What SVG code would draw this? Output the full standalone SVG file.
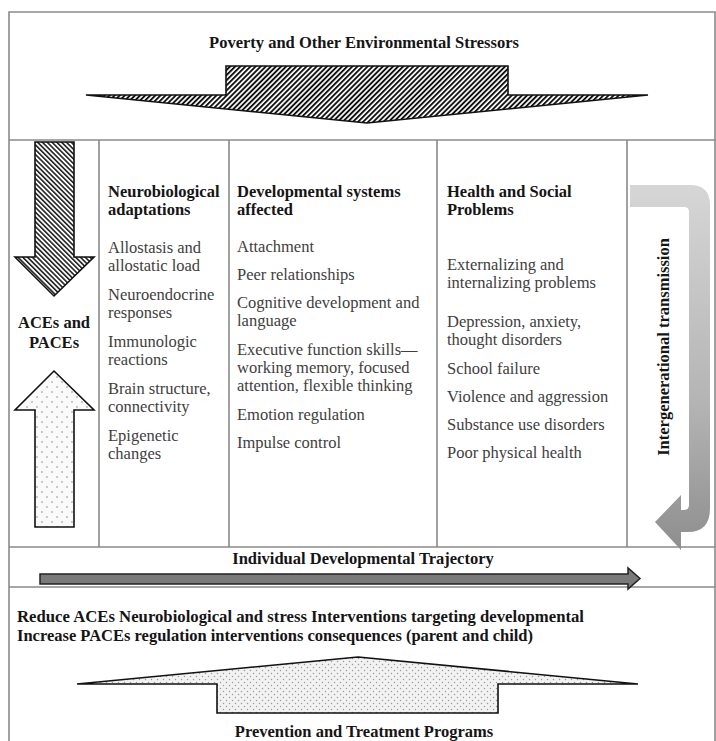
<svg xmlns="http://www.w3.org/2000/svg" width="716" height="741" viewBox="0 0 716 741">
<style>
.grid{stroke:#8a8a8a;stroke-width:1.6;fill:none}
.hd{font-family:"Liberation Serif","Times New Roman",serif;font-weight:bold;font-size:16.5px;fill:#151515}
.it{font-family:"Liberation Serif","Times New Roman",serif;font-size:16.5px;fill:#404040}
.ctr{text-anchor:middle}
.outl{stroke:#111;stroke-width:1.6;stroke-linejoin:miter}
</style>
<defs>
<pattern id="hatchF" patternUnits="userSpaceOnUse" width="3.6" height="3.6" patternTransform="rotate(45)">
<rect width="3.6" height="3.6" fill="#fff"/>
<rect width="1.9" height="3.6" fill="#111"/>
</pattern>
<pattern id="hatchB" patternUnits="userSpaceOnUse" width="3.4" height="3.4" patternTransform="rotate(-45)">
<rect width="3.4" height="3.4" fill="#fff"/>
<rect width="1.6" height="3.4" fill="#222"/>
</pattern>
<pattern id="dotsL" patternUnits="userSpaceOnUse" width="10" height="10">
<rect width="10" height="10" fill="#fafafa"/>
<circle cx="2" cy="2" r="0.8" fill="#888"/>
<circle cx="7" cy="7" r="0.8" fill="#888"/>
</pattern>
<pattern id="dotsB" patternUnits="userSpaceOnUse" width="6" height="6">
<rect width="6" height="6" fill="#f2f2f2"/>
<circle cx="1.5" cy="1.5" r="0.75" fill="#999"/>
<circle cx="4.5" cy="4.5" r="0.75" fill="#999"/>
</pattern>
<linearGradient id="igGrad" x1="0" y1="0" x2="0" y2="1">
<stop offset="0" stop-color="#d6d6d6"/>
<stop offset="0.6" stop-color="#b4b4b4"/>
<stop offset="1" stop-color="#8e8e8e"/>
</linearGradient>
</defs>
<rect width="716" height="741" fill="#fff"/>

<g id="frame">
<path class="grid" d="M9,741 V12 H715 V741"/>
<line class="grid" x1="9" y1="140" x2="716" y2="140"/>
<line class="grid" x1="9" y1="547" x2="716" y2="547"/>
<line class="grid" x1="9" y1="587" x2="716" y2="587"/>
<line class="grid" x1="99" y1="140" x2="99" y2="547"/>
<line class="grid" x1="229" y1="140" x2="229" y2="547"/>
<line class="grid" x1="437" y1="140" x2="437" y2="547"/>
<line class="grid" x1="627" y1="140" x2="627" y2="547"/>
</g>

<g id="connectors">
<polygon id="arrow-poverty" class="outl" fill="url(#hatchF)" points="226,66 508,66 508,95 648,95 367,123 86,95 226,95"/>
<polygon id="arrow-aces-down" class="outl" fill="url(#hatchB)" points="35,142 74,142 74,257 94,257 54,296 15,257 35,257"/>
<polygon id="arrow-paces-up" class="outl" fill="url(#dotsL)" points="54,371 94,410 74,410 74,527 35,527 35,410 15,410"/>
<path id="arrow-intergen" fill="url(#igGrad)" d="M630,185 H690 Q710,185 710,205 V508 Q710,532 688,532 H681 V550 L655,522 L681,495 V510 H684 Q689,510 689,505 V212 Q689,207 684,207 H630 Z"/>
<polygon id="arrow-trajectory" fill="#7a7a7a" stroke="#222" stroke-width="1.5" points="40,574 628,574 628,568 640,578.5 628,589 628,584 40,584"/>
<polygon id="arrow-prevention" class="outl" fill="url(#dotsB)" points="358,657 638,684 498,684 498,713 217,713 217,684 77,684"/>
</g>

<g id="poverty">
<text class="hd ctr" x="364" y="48">Poverty and Other Environmental Stressors</text>
</g>

<g id="aces">
<text class="hd ctr" x="54" y="328">ACEs and</text>
<text class="hd ctr" x="54" y="348">PACEs</text>
</g>

<g id="neurobiological">
<text class="hd" x="108" y="197">Neurobiological</text>
<text class="hd" x="108" y="215">adaptations</text>
<text class="it" x="108" y="253">Allostasis and</text>
<text class="it" x="108" y="271">allostatic load</text>
<text class="it" x="108" y="300">Neuroendocrine</text>
<text class="it" x="108" y="318">responses</text>
<text class="it" x="108" y="347">Immunologic</text>
<text class="it" x="108" y="365">reactions</text>
<text class="it" x="108" y="394">Brain structure,</text>
<text class="it" x="108" y="412">connectivity</text>
<text class="it" x="108" y="441">Epigenetic</text>
<text class="it" x="108" y="459">changes</text>
</g>

<g id="developmental">
<text class="hd" x="237" y="197">Developmental systems</text>
<text class="hd" x="237" y="215">affected</text>
<text class="it" x="237" y="252">Attachment</text>
<text class="it" x="237" y="280">Peer relationships</text>
<text class="it" x="237" y="308">Cognitive development and</text>
<text class="it" x="237" y="326">language</text>
<text class="it" x="237" y="355">Executive function skills—</text>
<text class="it" x="237" y="373">working memory, focused</text>
<text class="it" x="237" y="391">attention, flexible thinking</text>
<text class="it" x="237" y="420">Emotion regulation</text>
<text class="it" x="237" y="448">Impulse control</text>
</g>

<g id="health">
<text class="hd" x="447" y="197">Health and Social</text>
<text class="hd" x="447" y="215">Problems</text>
<text class="it" x="447" y="270">Externalizing and</text>
<text class="it" x="447" y="288">internalizing problems</text>
<text class="it" x="447" y="327">Depression, anxiety,</text>
<text class="it" x="447" y="345">thought disorders</text>
<text class="it" x="447" y="374">School failure</text>
<text class="it" x="447" y="402">Violence and aggression</text>
<text class="it" x="447" y="430">Substance use disorders</text>
<text class="it" x="447" y="458">Poor physical health</text>
</g>

<g id="intergenerational">
<text class="hd ctr" transform="translate(669,347) rotate(-90)" x="0" y="0">Intergenerational transmission</text>
</g>

<g id="trajectory">
<text class="hd ctr" x="363" y="564">Individual Developmental Trajectory</text>
</g>

<g id="interventions">
<text class="hd" x="17" y="622" textLength="567" lengthAdjust="spacingAndGlyphs">Reduce ACEs Neurobiological and stress Interventions targeting developmental</text>
<text class="hd" x="17" y="641" textLength="516" lengthAdjust="spacingAndGlyphs">Increase PACEs regulation interventions consequences (parent and child)</text>
</g>

<g id="prevention">
<text class="hd ctr" x="364" y="737">Prevention and Treatment Programs</text>
</g>
</svg>
